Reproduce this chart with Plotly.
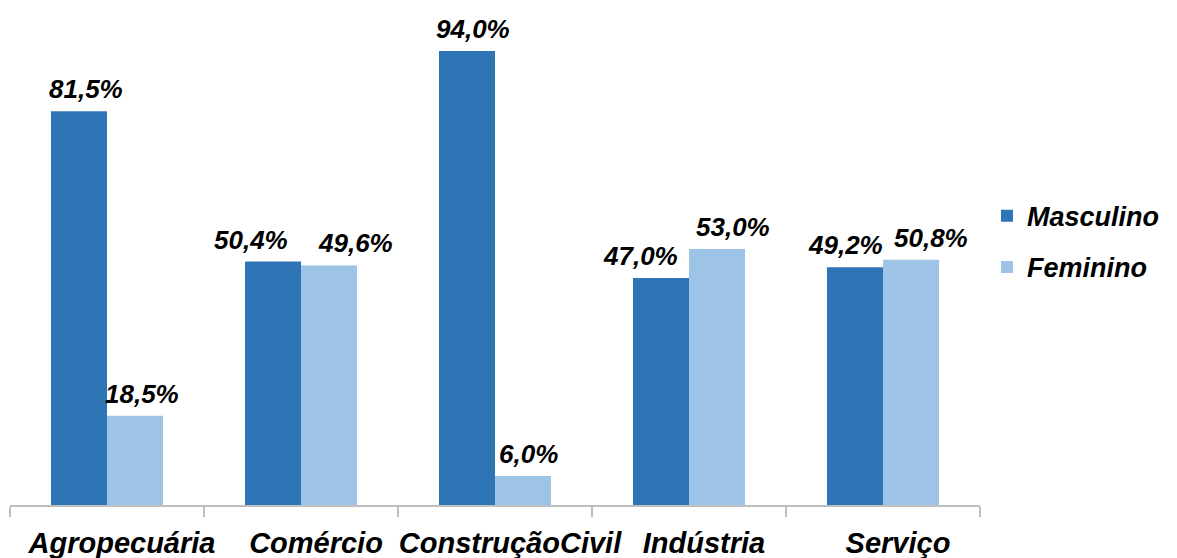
import plotly.graph_objects as go

# Share of workers by sex in each economic sector (%)
categories = ["Agropecuária", "Comércio", "ConstruçãoCivil", "Indústria", "Serviço"]
masculino = [81.5, 50.4, 94.0, 47.0, 49.2]
feminino = [18.5, 49.6, 6.0, 53.0, 50.8]

series_names = ["Masculino", "Feminino"]
series_colors = ["#2E75B6", "#9DC3E6"]

# Horizontal nudges (px) for value labels so neighbouring labels don't collide
label_nudge_masc = [7, -22, 6, -21, -10]
label_nudge_fem = [7, 26, 5, 16, 20]

FONT = "Liberation Sans, Arial, sans-serif"


def pct(v):
    return f"{v:.1f}".replace(".", ",") + "%"


fig = go.Figure()
for name, vals, color in zip(series_names, [masculino, feminino], series_colors):
    fig.add_trace(go.Bar(
        name=f"<b><i>{name}</i></b>",
        x=categories,
        y=vals,
        marker=dict(color=color, line=dict(width=0)),
        legendgroup=name,
        hoverinfo="skip",
    ))

# Value labels above each bar, offset to sit over its bar in the group
half = 0.5 * (1 - 0.4227) / 2
annotations = []
for offset, vals, nudges in zip([-half, half], [masculino, feminino],
                                [label_nudge_masc, label_nudge_fem]):
    for i, v in enumerate(vals):
        annotations.append(dict(
            x=i + offset, y=v, xref="x", yref="y",
            text=f"<b><i>{pct(v)}</i></b>",
            showarrow=False, yanchor="bottom", xanchor="center",
            yshift=5, xshift=nudges[i],
            font=dict(family=FONT, size=26, color="#000000"),
        ))

fig.update_layout(
    width=1177, height=558,
    margin=dict(l=10, r=197, t=22, b=53, autoexpand=False),
    paper_bgcolor="white", plot_bgcolor="white",
    barmode="group", bargap=0.4227, bargroupgap=0,
    annotations=annotations,
    showlegend=True,
    legend=dict(
        x=1.0072, xanchor="left", xref="paper",
        y=0.545, yanchor="middle",
        font=dict(family=FONT, size=27, color="#000000"),
        tracegroupgap=13,
        itemclick=False, itemdoubleclick=False,
        bgcolor="rgba(0,0,0,0)",
    ),
    xaxis=dict(
        type="category",
        automargin=False,
        showline=True, linecolor="#BFBFBF", linewidth=2,
        ticks="outside", tickson="boundaries", ticklen=10,
        tickcolor="#BFBFBF", tickwidth=2,
        tickangle=0,
        tickfont=dict(family=FONT, size=29, color="#000000"),
        ticklabelshift=15,
        ticklabelstandoff=11,
        tickvals=categories,
        ticktext=[f"<b><i>{c}</i></b>" for c in categories],
        showgrid=False, zeroline=False,
    ),
    yaxis=dict(
        range=[0, 100], visible=False, showgrid=False, zeroline=False,
    ),
)

fig.write_html("out.html")
